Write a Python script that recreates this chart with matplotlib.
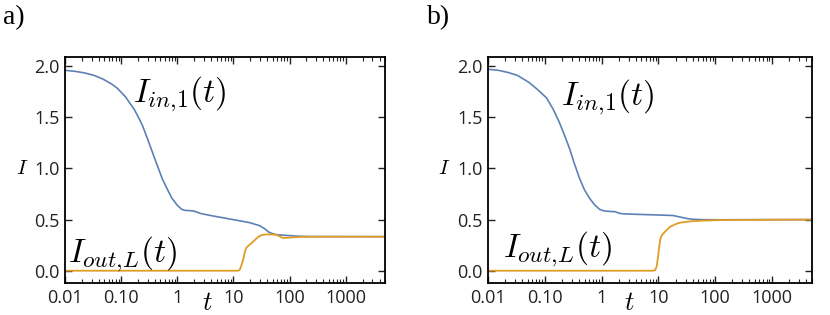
import numpy as np
import matplotlib
matplotlib.use("Agg")
import matplotlib.pyplot as plt
from matplotlib.ticker import FixedLocator, LogLocator, NullFormatter

plt.rcParams['mathtext.fontset'] = 'cm'

# panel a) data
t_a_in = [0.01, 0.015, 0.022, 0.033, 0.047, 0.068, 0.085, 0.098, 0.12, 0.14, 0.17, 0.195,
          0.24, 0.295, 0.36, 0.44, 0.54, 0.66, 0.8, 1.0, 1.2, 1.38, 1.6, 1.9, 2.2,
          2.6, 3.5, 4.9, 7, 9.8, 14, 19.5, 24, 29.5, 36, 42, 48, 56, 66, 90, 150,
          250, 5000]
I_a_in = [1.96, 1.95, 1.935, 1.91, 1.875, 1.825, 1.785, 1.75, 1.70, 1.645, 1.58, 1.52,
          1.42, 1.29, 1.16, 1.03, 0.90, 0.80, 0.71, 0.64, 0.60, 0.59, 0.588, 0.585, 0.575,
          0.56, 0.545, 0.53, 0.515, 0.50, 0.485, 0.47, 0.455, 0.44, 0.41, 0.38, 0.365,
          0.355, 0.35, 0.345, 0.337, 0.334, 0.333]
t_a_out = [0.01, 12, 13, 13.8, 14.8, 15.8, 16.5, 17.3, 19, 21, 24, 27.5, 32, 39,
           48, 59, 67, 76, 90, 120, 170, 300, 5000]
I_a_out = [0, 0, 0.01, 0.05, 0.10, 0.17, 0.21, 0.23, 0.25, 0.27, 0.30, 0.33, 0.35, 0.355,
           0.355, 0.35, 0.335, 0.32, 0.322, 0.327, 0.331, 0.333, 0.333]

# panel b) data
t_b_in = [0.01, 0.015, 0.022, 0.033, 0.053, 0.075, 0.107, 0.14, 0.18, 0.22, 0.27,
          0.33, 0.41, 0.5, 0.61, 0.75, 0.92, 1.1, 1.38, 1.7, 2.1, 2.6, 5, 10, 18,
          24, 32, 41, 60, 122, 300, 5000]
I_b_in = [1.97, 1.96, 1.94, 1.91, 1.84, 1.77, 1.69, 1.58, 1.45, 1.33, 1.2,
          1.05, 0.90, 0.79, 0.71, 0.645, 0.60, 0.585, 0.58, 0.578, 0.56, 0.555, 0.55, 0.545, 0.54,
          0.525, 0.51, 0.503, 0.499, 0.498, 0.499, 0.5]
t_b_out = [0.01, 8, 8.7, 9.3, 9.8, 10.3, 10.8, 11.3, 12, 13.5, 16, 20, 24, 35,
           61, 120, 245, 5000]
I_b_out = [0, 0, 0.005, 0.04, 0.13, 0.23, 0.31, 0.34, 0.36, 0.39, 0.43, 0.455, 0.47, 0.482,
           0.49, 0.495, 0.497, 0.5]

xticks = [0.01, 0.1, 1, 10, 100, 1000]
xticklabels = ["0.01", "0.10", "1", "10", "100", "1000"]
yticks = [0.0, 0.5, 1.0, 1.5, 2.0]
yticklabels = ["0.0", "0.5", "1.0", "1.5", "2.0"]

blue = "#5E81B5"
orange = "#E19C24"

fig = plt.figure(figsize=(8.3, 3.15), dpi=100)
ax1 = fig.add_axes([0.0783, 0.1016, 0.3855, 0.7175])
ax2 = fig.add_axes([0.5880, 0.1016, 0.3900, 0.7175])


def panel(ax, t_in, I_in, t_out, I_out, in_pos, out_pos, tlab_x):
    ax.semilogx(t_in, I_in, color=blue, lw=1.2)
    ax.semilogx(t_out, I_out, color=orange, lw=1.3)
    ax.set_xlim(0.01, 5000)
    ax.set_ylim(-0.12, 2.09)
    ax.xaxis.set_major_locator(FixedLocator(xticks))
    ax.set_xticklabels(xticklabels)
    ax.xaxis.set_minor_locator(LogLocator(base=10, subs=np.arange(2, 10)))
    ax.xaxis.set_minor_formatter(NullFormatter())
    ax.set_yticks(yticks)
    ax.set_yticklabels(yticklabels)
    ax.tick_params(which='both', direction='in', top=True, right=True,
                   labelsize=13, colors='#222222', pad=4)
    ax.tick_params(which='major', length=5, width=1)
    ax.tick_params(which='minor', length=3, width=0.8)
    for lab in ax.get_xticklabels() + ax.get_yticklabels():
        lab.set_family('Open Sans')
    for s in ax.spines.values():
        s.set_linewidth(1.3)
    ax.text(in_pos[0], in_pos[1], r"$I_{in{,}1}(t)$", fontsize=24)
    ax.text(out_pos[0], out_pos[1], r"$I_{out{,}L}(t)$", fontsize=24)
    ax.text(-0.135, 0.51, r"$I$", fontsize=15, transform=ax.transAxes,
            ha='center', va='center')
    ax.text(tlab_x, -0.09, r"$t$", fontsize=19, transform=ax.transAxes,
            ha='center', va='center')


panel(ax1, t_a_in, I_a_in, t_a_out, I_a_out, (0.16, 1.65), (0.0114, 0.09), 0.444)
panel(ax2, t_b_in, I_b_in, t_b_out, I_b_out, (0.195, 1.62), (0.018, 0.13), 0.435)

fig.text(0.004, 0.985, "a)", fontsize=20, family='Liberation Serif', va='top')
fig.text(0.514, 0.985, "b)", fontsize=20, family='Liberation Serif', va='top')

fig.savefig("out.png", dpi=100)
